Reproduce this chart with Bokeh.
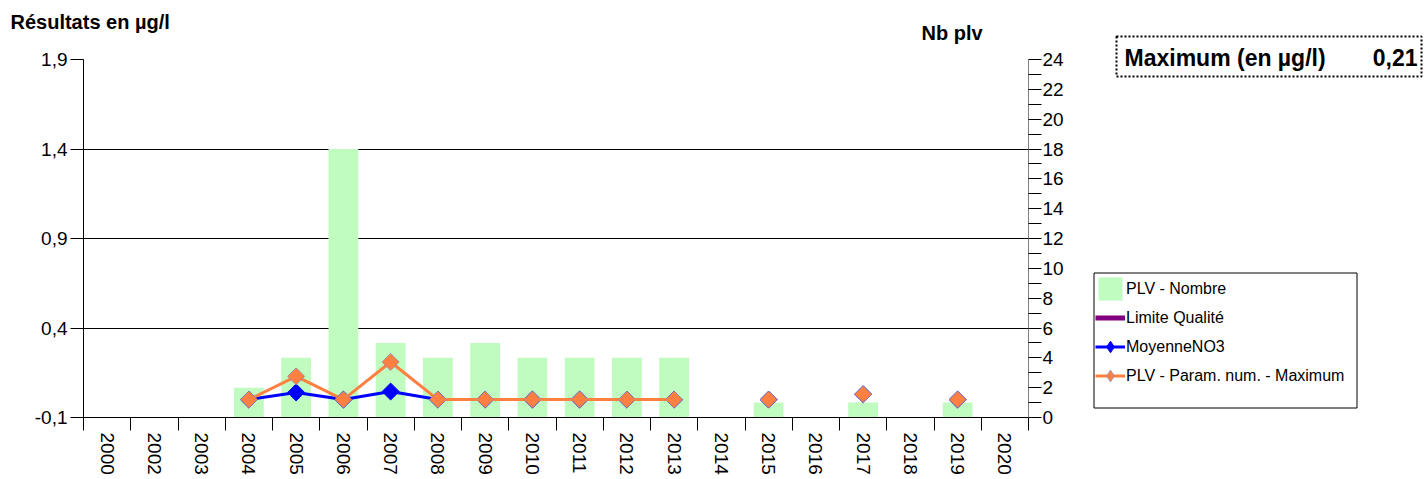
import math
import numpy as np
from bokeh.plotting import figure
from bokeh.layouts import row, column
from bokeh.models import (Range1d, LinearAxis, FixedTicker, CustomJSTickFormatter,
                          Legend, LegendItem, Label, BoxAnnotation, Grid)
from bokeh.embed import file_html
from bokeh.resources import INLINE

NaN = float("nan")

# ---- data ----
annees = ["2000", "2002", "2003", "2004", "2005", "2006", "2007", "2008", "2009", "2010",
          "2011", "2012", "2013", "2014", "2015", "2016", "2017", "2018", "2019", "2020"]
nb_plv = [0, 0, 0, 2, 4, 18, 5, 4, 5, 4, 4, 4, 4, 0, 1, 0, 1, 0, 1, 0]
moyenne_no3 = [NaN, NaN, NaN, 0.0, 0.04, 0.0, 0.045, 0.0, 0.0, 0.0,
               0.0, 0.0, 0.0, NaN, 0.0, NaN, 0.03, NaN, 0.0, NaN]
maximum_plv = [NaN, NaN, NaN, 0.0, 0.13, 0.0, 0.21, 0.0, 0.0, 0.0,
               0.0, 0.0, 0.0, NaN, 0.0, NaN, 0.03, NaN, 0.0, NaN]
limite_qualite = [NaN] * len(annees)
ticks_resultats = [-0.1, 0.4, 0.9, 1.4, 1.9]
ticks_nb = [0, 2, 4, 6, 8, 10, 12, 14, 16, 18, 20, 22, 24]
minor_nb = [1, 3, 5, 7, 9, 11, 13, 15, 17, 19, 21, 23]
maximum_global = "0,21"
titre_gauche = "Résultats en µg/l"
titre_droite = "Nb plv"
titre_maximum = "Maximum (en µg/l)"
noms_series = ["PLV - Nombre", "Limite Qualité", "MoyenneNO3", "PLV - Param. num. - Maximum"]

FONT = "Liberation Sans"
C_BAR, C_LIM, C_MOY, C_MAX = "#C0FCC0", "#800080", "#0000FF", "#FF8040"
n = len(annees)
centres = np.arange(n) + 0.5
bords = list(range(n + 1))
moy = np.array(moyenne_no3, dtype=float)
mx = np.array(maximum_plv, dtype=float)
lim = np.array(limite_qualite, dtype=float)


def series(fig, visible=True, marker="square", angle=math.pi / 4, msize=12):
    r_bar = fig.vbar(x=centres, top=nb_plv, bottom=0, width=0.63, y_range_name="nb",
                     fill_color=C_BAR, line_color=None, visible=visible)
    r_lim = fig.line(centres, lim, line_color=C_LIM, line_width=5, visible=visible)
    r_moy_l = fig.line(centres, moy, line_color=C_MOY, line_width=3, visible=visible)
    r_moy_m = fig.scatter(centres, moy, marker=marker, angle=angle, size=msize,
                          fill_color=C_MOY, line_color=C_MOY, line_width=1, visible=visible)
    r_max_l = fig.line(centres, mx, line_color=C_MAX, line_width=3, visible=visible)
    r_max_m = fig.scatter(centres, mx, marker=marker, angle=angle, size=msize,
                          fill_color=C_MAX, line_color="#9088A8", line_width=0.8, visible=visible)
    return [[r_bar], [r_lim], [r_moy_l, r_moy_m], [r_max_l, r_max_m]]


def blank(fig):
    fig.outline_line_color = None
    fig.background_fill_color = "white"
    fig.border_fill_color = "white"


# ---------- title strip ----------
TW, TH = 1075, 45
t = figure(width=TW, height=TH, output_backend="svg", toolbar_location=None,
           x_range=Range1d(0, TW), y_range=Range1d(0, TH),
           x_axis_type=None, y_axis_type=None, min_border=0)
blank(t)
t.add_layout(Label(x=10, y=TH - 21, text=titre_gauche,
                   text_font=FONT, text_font_size="20px", text_font_style="bold",
                   text_baseline="middle", text_align="left", text_color="black"))
t.add_layout(Label(x=921, y=TH - 32, text=titre_droite,
                   text_font=FONT, text_font_size="20px", text_font_style="bold",
                   text_baseline="middle", text_align="left", text_color="black"))

# ---------- main chart ----------
AW, AH = TW, 478 - TH
FL, FT, FW, FH = 83, 59 - TH, 945, 358

p = figure(width=AW, height=AH, output_backend="svg", toolbar_location=None,
           x_range=Range1d(0, n), y_range=Range1d(-0.1, 1.9),
           x_axis_type=None, y_axis_type=None,
           min_border_left=FL, min_border_top=FT,
           min_border_right=AW - FL - FW, min_border_bottom=AH - FT - FH)
blank(p)
p.extra_y_ranges = {"nb": Range1d(0, 24)}

left_ticker = FixedTicker(ticks=ticks_resultats, minor_ticks=[])
yleft = LinearAxis(ticker=left_ticker,
                   formatter=CustomJSTickFormatter(code="return tick.toFixed(1).replace('.', ',');"),
                   major_tick_out=13, major_tick_in=0, minor_tick_out=0, minor_tick_in=0,
                   axis_line_color="black", major_tick_line_color="black",
                   major_label_text_font=FONT, major_label_text_font_size="19px",
                   major_label_text_color="black", major_label_standoff=3)
p.add_layout(yleft, "left")

yright = LinearAxis(y_range_name="nb", ticker=FixedTicker(ticks=ticks_nb, minor_ticks=minor_nb),
                    major_tick_out=13, major_tick_in=0, minor_tick_out=13, minor_tick_in=0,
                    axis_line_color="#808080", major_tick_line_color="black",
                    minor_tick_line_color="black",
                    major_label_text_font=FONT, major_label_text_font_size="19px",
                    major_label_text_color="black", major_label_standoff=1)
p.add_layout(yright, "right")

xaxis = LinearAxis(ticker=FixedTicker(ticks=list(centres), minor_ticks=bords),
                   formatter=CustomJSTickFormatter(args=dict(labels=annees),
                                                   code="return labels[Math.floor(tick)] || '';"),
                   major_tick_out=0, major_tick_in=0, minor_tick_out=13, minor_tick_in=0,
                   axis_line_color="black", minor_tick_line_color="black",
                   major_label_orientation="vertical",
                   major_label_text_font=FONT, major_label_text_font_size="19px",
                   major_label_text_color="black", major_label_standoff=2)
p.add_layout(xaxis, "below")

p.add_layout(Grid(dimension=1, ticker=left_ticker, grid_line_color="black", grid_line_width=1))

series(p)

# ---------- right side: legend + maximum box ----------
BX0 = AW
BW, BH = 1426 - AW, 478
b = figure(width=BW, height=BH, output_backend="svg", toolbar_location=None,
           x_range=Range1d(0, BW), y_range=Range1d(0, BH),
           x_axis_type=None, y_axis_type=None, min_border=0)
blank(b)
b.extra_y_ranges = {"nb": Range1d(0, 24)}

# hidden copies of the series, used only as legend swatches
proxies = series(b, visible=False, marker="diamond", angle=0, msize=17)

b.add_layout(BoxAnnotation(left=1093.5 - BX0, right=1356.5 - BX0, top=BH - 272.5, bottom=BH - 407.5,
                           fill_alpha=0, line_color="black", line_alpha=1, line_width=1))
LEG_H = 2 * 2 + 4 * 29
legend = Legend(items=[LegendItem(label=nm, renderers=rs) for nm, rs in zip(noms_series, proxies)],
                location=(1093 - BX0, BH - 272 - LEG_H), margin=0, padding=2, spacing=0,
                glyph_width=30, glyph_height=29, label_height=29, label_standoff=1,
                label_text_font=FONT, label_text_font_size="16px", label_text_color="black",
                border_line_alpha=0, background_fill_alpha=0,
                inactive_fill_alpha=0)
b.add_layout(legend)

b.add_layout(BoxAnnotation(left=1116 - BX0, right=1421 - BX0, top=BH - 36, bottom=BH - 76,
                           fill_alpha=0, line_color="black", line_alpha=1,
                           line_width=2, line_dash="2 2"))
b.add_layout(Label(x=1124 - BX0, y=BH - 57, text=titre_maximum,
                   text_font=FONT, text_font_size="23px", text_font_style="bold",
                   text_baseline="middle", text_align="left", text_color="black"))
b.add_layout(Label(x=1417 - BX0, y=BH - 57, text=maximum_global,
                   text_font=FONT, text_font_size="23px", text_font_style="bold",
                   text_baseline="middle", text_align="right", text_color="black"))

layout = row(column(row(t), p), b)
open("out.html", "w").write(file_html(layout, INLINE))
